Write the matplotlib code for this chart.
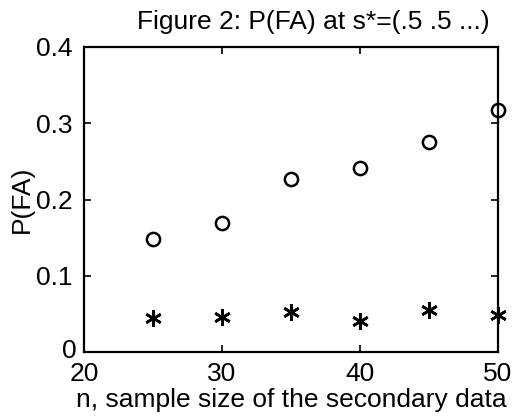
import matplotlib
matplotlib.use("Agg")
import matplotlib.pyplot as plt
import matplotlib.transforms as mtransforms

plt.rcParams['font.family'] = ['Liberation Sans', 'DejaVu Sans']

# data
n_sizes = [25, 30, 35, 40, 45, 50]
pfa_circle = [0.148, 0.169, 0.227, 0.241, 0.275, 0.317]
pfa_star = [0.045, 0.046, 0.053, 0.041, 0.055, 0.049]

x_ticks = [20, 30, 40, 50]
y_ticks = [0, 0.1, 0.2, 0.3, 0.4]
y_labels = ['0', '0.1', '0.2', '0.3', '0.4']

fig = plt.figure(figsize=(5.13, 4.17), dpi=100)
ax = fig.add_axes([84/513, 1 - 352/417, (498-84)/513, (352-47)/417])

ax.plot(n_sizes, pfa_circle, 'o', mfc='none', mec='black', ms=9.5, mew=1.8, clip_on=False)
ax.plot(n_sizes, pfa_star, marker=(6, 2, 0), ls='none', color='black', ms=12, mew=1.9, clip_on=False)

ax.set_xlim(20, 50)
ax.set_ylim(0, 0.4)
ax.set_xticks(x_ticks)
ax.set_yticks(y_ticks)
ax.set_yticklabels(y_labels)
ax.tick_params(direction='in', length=5, width=1.2, labelsize=19, top=True, right=True)
ax.tick_params(axis='x', pad=7)
ax.tick_params(axis='y', pad=8)
# the "0" label sits a bit higher and further right in the original
zero_lbl = ax.get_yticklabels()[0]
zero_lbl.set_transform(zero_lbl.get_transform() +
                       mtransforms.ScaledTranslation(4/100, 3/100, fig.dpi_scale_trans))
for s in ax.spines.values():
    s.set_linewidth(1.6)

ax.set_xlabel('n, sample size of the secondary data', fontsize=19, labelpad=2)
ax.set_ylabel('P(FA)', fontsize=19, labelpad=2)
ax.set_title('Figure 2: P(FA) at s*=(.5 .5 ...)', fontsize=19, pad=13, x=0.553)

fig.savefig('out.png', dpi=100)
